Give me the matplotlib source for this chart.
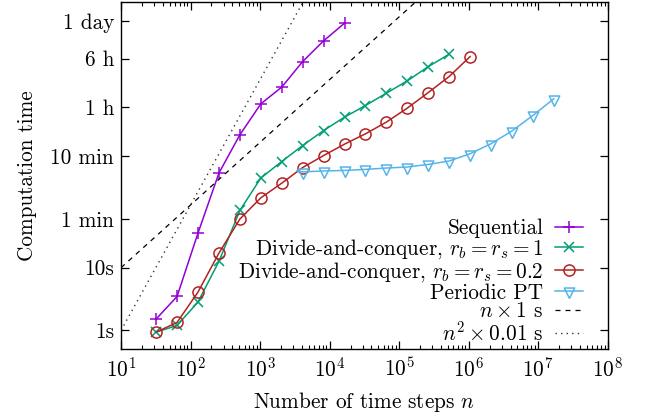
import numpy as np
import matplotlib
matplotlib.use("Agg")
import matplotlib.pyplot as plt
from matplotlib.ticker import FixedLocator, LogLocator, NullFormatter

plt.rcParams['font.family'] = ['cmr10']
plt.rcParams['mathtext.fontset'] = 'cm'
plt.rcParams['axes.formatter.use_mathtext'] = True
plt.rcParams['font.size'] = 15.3

# time steps
n_seq = [32, 64, 128, 256, 512, 1024, 2048, 4096, 8192, 16384]
n_dc1 = [2**k for k in range(5, 20)]
n_dc02 = [2**k for k in range(5, 21)]
n_ppt = [3400] + [2**k for k in range(12, 25)]

# computation times in seconds
t_seq = [1.52, 3.48, 35.7, 323, 1316, 4100, 7590, 19400, 41500, 79400]
t_dc1 = [0.94, 1.20, 2.84, 12.6, 81.8, 269, 494, 889, 1540, 2520, 3860, 6080, 9550, 16100, 25400]
t_dc02 = [0.94, 1.34, 4.09, 17.1, 59.7, 130, 223, 396, 615, 935, 1365, 2100, 3510, 6210, 11200, 23300]
t_ppt = [352, 338, 349, 356, 370, 389, 404, 444, 503, 658, 949, 1515, 2680, 4950]

ytick_vals = [1, 10, 60, 600, 3600, 21600, 86400]
ytick_labels = ['1s', '10s', '1 min', '10 min', '1 h', '6 h', '1 day']

# gnuplot-style inverted triangle, centred on its centroid
tri_down = [(0, -4/3), (-1, 2/3), (1, 2/3), (0, -4/3)]

fig = plt.figure(figsize=(6.45, 4.19), dpi=100)
ax = fig.add_axes([0.1876, 0.1663, 0.7546, 0.8289])

ax.plot(n_seq, t_seq, color='#9400D3', lw=1.1, marker='+', ms=9, mew=1.1,
        label='Sequential')
ax.plot(n_dc1, t_dc1, color='#009E73', lw=1.1, marker='x', ms=7.5, mew=1.1,
        label=r'Divide-and-conquer, $r_b = r_s = 1$')
ax.plot(n_dc02, t_dc02, color='#B22222', lw=1.1, marker='o', ms=8, mew=1.1,
        mfc='none', label=r'Divide-and-conquer, $r_b = r_s = 0.2$')
ax.plot(n_ppt, t_ppt, color='#56B4E9', lw=1.1, marker=tri_down, ms=10, mew=1.1,
        mfc='none', markevery=list(range(1, len(n_ppt))), label='Periodic PT')

nn = np.logspace(1, 8, 200)
ax.plot(nn, nn * 1.0, color='black', lw=0.9, ls=(0, (4, 4)), label=r'$n \times 1$ s')
ax.plot(nn, nn**2 * 0.01, color='#333333', lw=1.0, ls=(0, (1, 3)),
        label=r'$n^2 \times 0.01$ s')

ax.set_xscale('log')
ax.set_yscale('log')
ax.set_xlim(10, 1e8)
ax.set_ylim(0.5, 172800)

ax.xaxis.set_major_locator(LogLocator(base=10, numticks=20))
ax.xaxis.set_minor_locator(LogLocator(base=10, subs=np.arange(2, 10), numticks=20))
ax.xaxis.set_minor_formatter(NullFormatter())
ax.yaxis.set_major_locator(FixedLocator(ytick_vals))
ax.set_yticklabels(ytick_labels)
ax.yaxis.set_minor_locator(FixedLocator([]))

ax.tick_params(which='both', direction='in', top=True, right=True)
ax.tick_params(which='major', length=6, width=0.9, pad=5)
ax.tick_params(which='minor', length=3, width=0.8)
for s in ax.spines.values():
    s.set_linewidth(1.0)

ax.set_xlabel(r'Number of time steps $n$', labelpad=7)
ax.set_ylabel('Computation time', labelpad=10)

ax.legend(loc='lower right', bbox_to_anchor=(0.9487, 0.015), frameon=False,
          markerfirst=False, handlelength=1.3, handletextpad=0.55,
          labelspacing=-0.04, borderpad=0, borderaxespad=0)

fig.savefig('out.png', dpi=100)
